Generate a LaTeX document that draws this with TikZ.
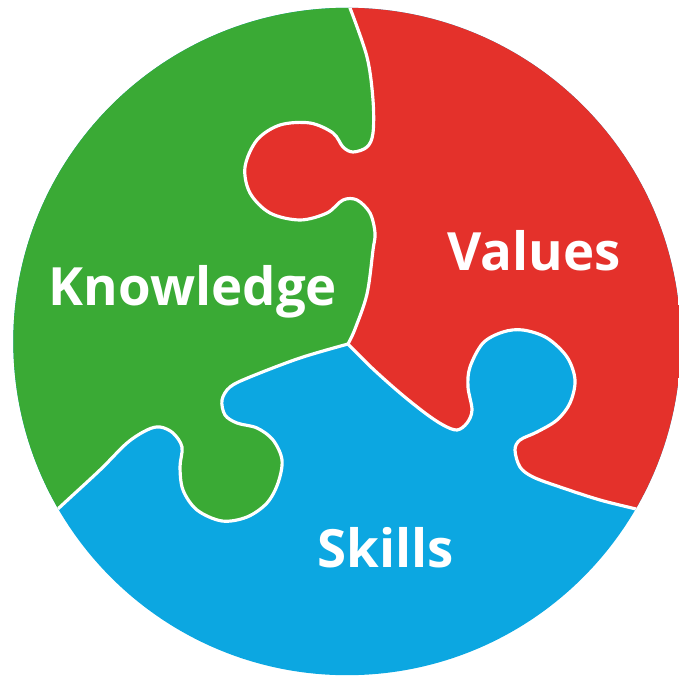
\documentclass[tikz,border=0pt]{standalone}
\usepackage{fontspec}
\setsansfont{Open Sans}
\usepackage{tikz}

\definecolor{knowgreen}{RGB}{58,170,53}
\definecolor{valred}{RGB}{228,49,43}
\definecolor{skillblue}{RGB}{12,167,225}

\tikzset{
  seam/.style={draw=white, line width=0.9pt},
  piecetext/.style={text=white, anchor=base, inner sep=0pt,
    font=\sffamily\bfseries\fontsize{15}{18}\selectfont},
  % the three cuts between the pieces, all starting at the top or the middle
  gr edge/.style={insert path={-- plot[smooth, tension=0.55] coordinates {
    (350,8) (367,57) (373,100) (373,133) (367,147) (353,152) (343,147)
    (333,133) (310,123) (280,125) (257,140) (245,167) (250,193) (270,213)
    (300,220) (327,213) (343,200) (357,200) (370,213) (375,233) (373,250)
    (367,294) (355,329) (348,344)}}},
  rb edge/.style={insert path={-- plot[smooth, tension=0.55] coordinates {
    (348,344) (372,368) (400,393) (425,413) (443,425) (457,430) (467,423)
    (472,410) (468,387) (470,367) (483,343) (503,332) (523,330) (547,338)
    (567,357) (575,380) (570,403) (557,420) (537,432) (520,440) (515,450)
    (520,467) (533,477) (560,487) (600,500) (640,510) (690,523)}}},
  gb edge/.style={insert path={-- plot[smooth, tension=0.55] coordinates {
    (348,344) (300,358) (250,377) (230,387) (222,400) (225,415) (237,423)
    (257,428) (273,440) (282,460) (278,483) (267,503) (247,517) (222,521)
    (197,510) (183,490) (180,467) (182,447) (173,433) (160,427) (147,430)
    (127,443) (100,470) (60,507) (25,540)}}}
}

\begin{document}
\begin{tikzpicture}[x=0.01cm, y=-0.01cm]
  \useasboundingbox (0,0) rectangle (678,679);

  \begin{scope}
    \clip (347,341.5) circle[radius=3.335cm];
    % skills is the whole disc, the other two lie on top
    \fill[skillblue] (0,0) rectangle (700,700);
    \fill[knowgreen] (-20,-20) -- (348,-20) [gr edge] [gb edge] -- (-20,560) -- cycle;
    \fill[valred] (700,-20) -- (348,-20) [gr edge] [rb edge] -- (700,530) -- cycle;

    \draw[seam] (348,-20) [gr edge];
    \draw[seam] (348,344) [rb edge];
    \draw[seam] (348,344) [gb edge];
  \end{scope}

  \node[piecetext] (know) at (193,305) {Knowledge};
  \node[piecetext] (vals) at (534,270) {Values};
  \node[piecetext] (skil) at (386,567) {Skills};
\end{tikzpicture}
\end{document}
